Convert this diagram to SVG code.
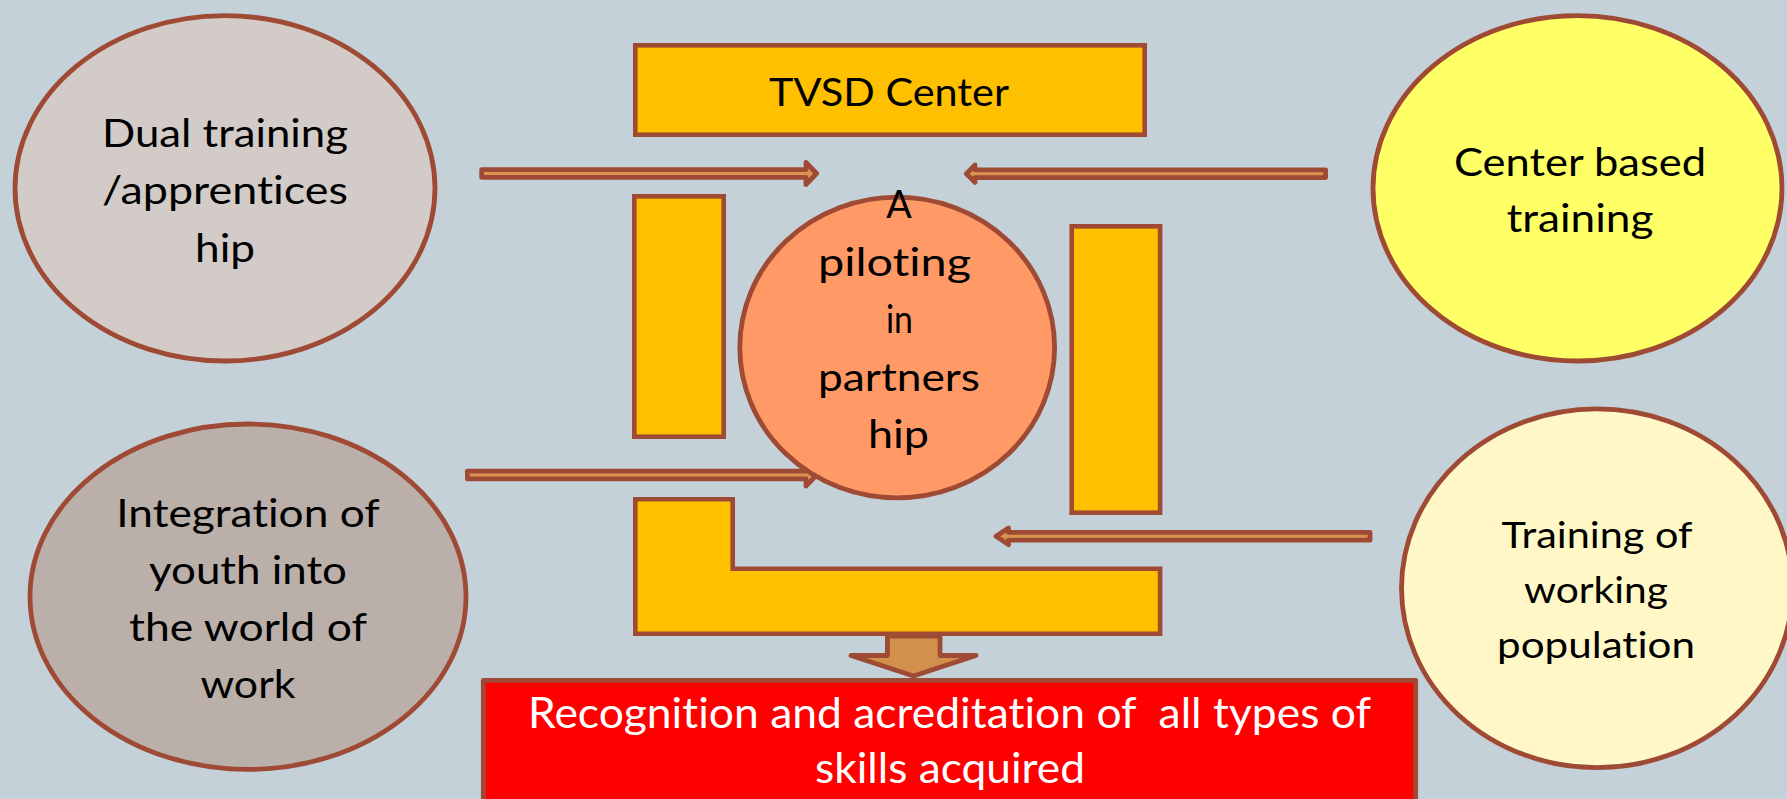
<svg xmlns="http://www.w3.org/2000/svg" width="1787" height="799" viewBox="0 0 1787 799">
<defs>
<style>
.sh{stroke:#9E4A34;stroke-width:4.8;stroke-linejoin:round}
.bar{fill:#FFC000;stroke:#9E4A34;stroke-width:4.6}
.arr{fill:#D99550;stroke:#9E4A34;stroke-width:4.8;stroke-linejoin:round}
.t{font-family:Lato,"Open Sans","Liberation Sans",sans-serif;font-size:39px;fill:#000;text-anchor:middle;font-variant-ligatures:none;font-feature-settings:"liga" 0}
.tw{font-family:Lato,"Open Sans","Liberation Sans",sans-serif;font-size:42px;fill:#FFF;text-anchor:middle;white-space:pre;font-variant-ligatures:none;font-feature-settings:"liga" 0}
</style>
</defs>
<rect x="0" y="0" width="1787" height="799" fill="#C5D1D8"/>

<g id="node-dual">
<ellipse class="sh" cx="225" cy="188.3" rx="210" ry="172.7" fill="#D3CBC7"/>
<text class="t" x="225" y="146.7" textLength="246" lengthAdjust="spacingAndGlyphs">Dual training</text>
<text class="t" x="225" y="204" textLength="246" lengthAdjust="spacingAndGlyphs">/apprentices</text>
<text class="t" x="225" y="261.5" textLength="60" lengthAdjust="spacingAndGlyphs">hip</text>
</g>

<g id="node-center-based">
<ellipse class="sh" cx="1577.5" cy="188.3" rx="204.5" ry="172.7" fill="#FFFF66"/>
<text class="t" x="1580" y="175.5" textLength="252" lengthAdjust="spacingAndGlyphs">Center based</text>
<text class="t" x="1580" y="232" textLength="147" lengthAdjust="spacingAndGlyphs">training</text>
</g>

<g id="node-integration">
<ellipse class="sh" cx="248" cy="596.7" rx="218" ry="172.7" fill="#BAAFA9"/>
<text class="t" x="248" y="527" textLength="263.5" lengthAdjust="spacingAndGlyphs">Integration of</text>
<text class="t" x="248" y="584" textLength="198" lengthAdjust="spacingAndGlyphs">youth into</text>
<text class="t" x="248" y="641" textLength="238" lengthAdjust="spacingAndGlyphs">the world of</text>
<text class="t" x="248" y="698" textLength="95" lengthAdjust="spacingAndGlyphs">work</text>
</g>

<g id="node-training">
<ellipse class="sh" cx="1597" cy="588.3" rx="195.5" ry="179.4" fill="#FFF8C6"/>
<text class="t" style="font-size:37px" x="1597" y="548" textLength="191" lengthAdjust="spacingAndGlyphs">Training of</text>
<text class="t" style="font-size:37px" x="1596" y="603" textLength="144" lengthAdjust="spacingAndGlyphs">working</text>
<text class="t" style="font-size:37px" x="1596" y="658" textLength="198" lengthAdjust="spacingAndGlyphs">population</text>
</g>

<g id="connectors">
<path class="arr" d="M481.7,169.6 L806,169.6 L806,162.5 L816.6,173.5 L806,184.5 L806,177.4 L481.7,177.4 Z"/>
<path class="arr" d="M1325.6,169.8 L975,169.8 L975,165 L966.4,173.7 L975,182.4 L975,177.6 L1325.6,177.6 Z"/>
<path class="arr" d="M467.4,471.1 L806,471.1 L806,464 L816.6,475 L806,486 L806,478.9 L467.4,478.9 Z"/>
<path class="arr" d="M1370,532.4 L1008.5,532.4 L1008.5,528 L996,536.3 L1008.5,544.6 L1008.5,540.2 L1370,540.2 Z"/>
</g>

<g id="node-tvsd">
<rect class="bar" x="635.3" y="45.3" width="509.4" height="89.4"/>
<text class="t" x="889" y="106" textLength="240" lengthAdjust="spacingAndGlyphs">TVSD Center</text>
</g>

<g id="node-left-bar">
<rect class="bar" x="634.3" y="196.3" width="89.4" height="240.4"/>
</g>

<g id="node-right-bar">
<rect class="bar" x="1071.7" y="226.3" width="88.4" height="286.4"/>
</g>

<g id="node-l-bar">
<path class="bar" d="M635.3,499.3 L732.7,499.3 L732.7,568.8 L1160.1,568.8 L1160.1,633.7 L635.3,633.7 Z"/>
</g>

<g id="node-piloting">
<ellipse class="sh" cx="897.2" cy="347.5" rx="157.4" ry="150.3" fill="#FF9966"/>
<text class="t" x="899" y="218" textLength="25.5" lengthAdjust="spacingAndGlyphs">A</text>
<text class="t" x="894.5" y="275.5" textLength="153" lengthAdjust="spacingAndGlyphs">piloting</text>
<text class="t" x="899.5" y="333" textLength="27" lengthAdjust="spacingAndGlyphs">in</text>
<text class="t" x="899" y="390.5" textLength="162" lengthAdjust="spacingAndGlyphs">partners</text>
<text class="t" x="898.5" y="448" textLength="61" lengthAdjust="spacingAndGlyphs">hip</text>
</g>

<g id="down-arrow">
<path class="sh" fill="#D1904B" d="M887.4,636 L940,636 L940,655.5 L976,655.5 L913.5,676 L851,655.5 L887.4,655.5 Z"/>
</g>

<g id="node-recognition">
<rect class="sh" x="483.3" y="680.3" width="932.4" height="140" fill="#FF0000"/>
<text class="tw" x="949.5" y="728" textLength="843" lengthAdjust="spacingAndGlyphs">Recognition and acreditation of  all types of</text>
<text class="tw" x="950" y="783" textLength="270" lengthAdjust="spacingAndGlyphs">skills acquired</text>
</g>
</svg>
